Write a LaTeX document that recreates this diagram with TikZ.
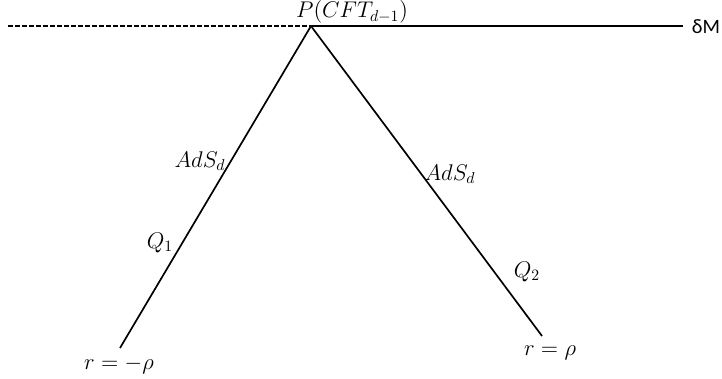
\documentclass[tikz,border=0pt]{standalone}
\usepackage{fontspec}
\newfontfamily\labelfont{Carlito}
\usetikzlibrary{calc}

\begin{document}
\begin{tikzpicture}[
  x=0.025cm, y=-0.025cm,
  brane/.style ={line width=1.2pt, black},
  bdry/.style  ={line width=1.2pt, black},
  half/.style  ={line width=1.2pt, black, dash pattern=on 0.125cm off 0.05cm},
  lbl/.style   ={inner sep=0pt, scale=1.12, font=\fontsize{14.4}{17}\selectfont},
  slbl/.style  ={inner sep=0pt, font=\fontsize{14.5}{17}\selectfont\labelfont},
]
\useasboundingbox (0,0) rectangle (722,379);

% ============================ boundary ======================================
\coordinate (p)  at (311,26);
\coordinate (dl) at (8,26);
\coordinate (dr) at (683,26);
\node[slbl] (dm) at (706,27) {δM};
\node[lbl]  (cft) at (352,12) {$P(CFT_{d-1})$};

\draw[half] (dl) -- (p);
\draw[bdry] (p) -- (dr);

% ============================ the two branes ================================
\coordinate (q1) at (120,348);
\coordinate (q2) at (542,336);
\draw[brane] (p) -- (q1);
\draw[brane] (p) -- (q2);

\node[lbl] (ads1) at (200,161) {$AdS_d$};
\node[lbl] (ads2) at (450,174) {$AdS_d$};
\node[lbl] (lq1)  at (160,243) {$Q_1$};
\node[lbl] (lq2)  at (527,272) {$Q_2$};
\node[lbl] (rl)   at (119,365) {$r=-\rho$};
\node[lbl] (rr)   at (550,353) {$r=\rho$};
\end{tikzpicture}
\end{document}
